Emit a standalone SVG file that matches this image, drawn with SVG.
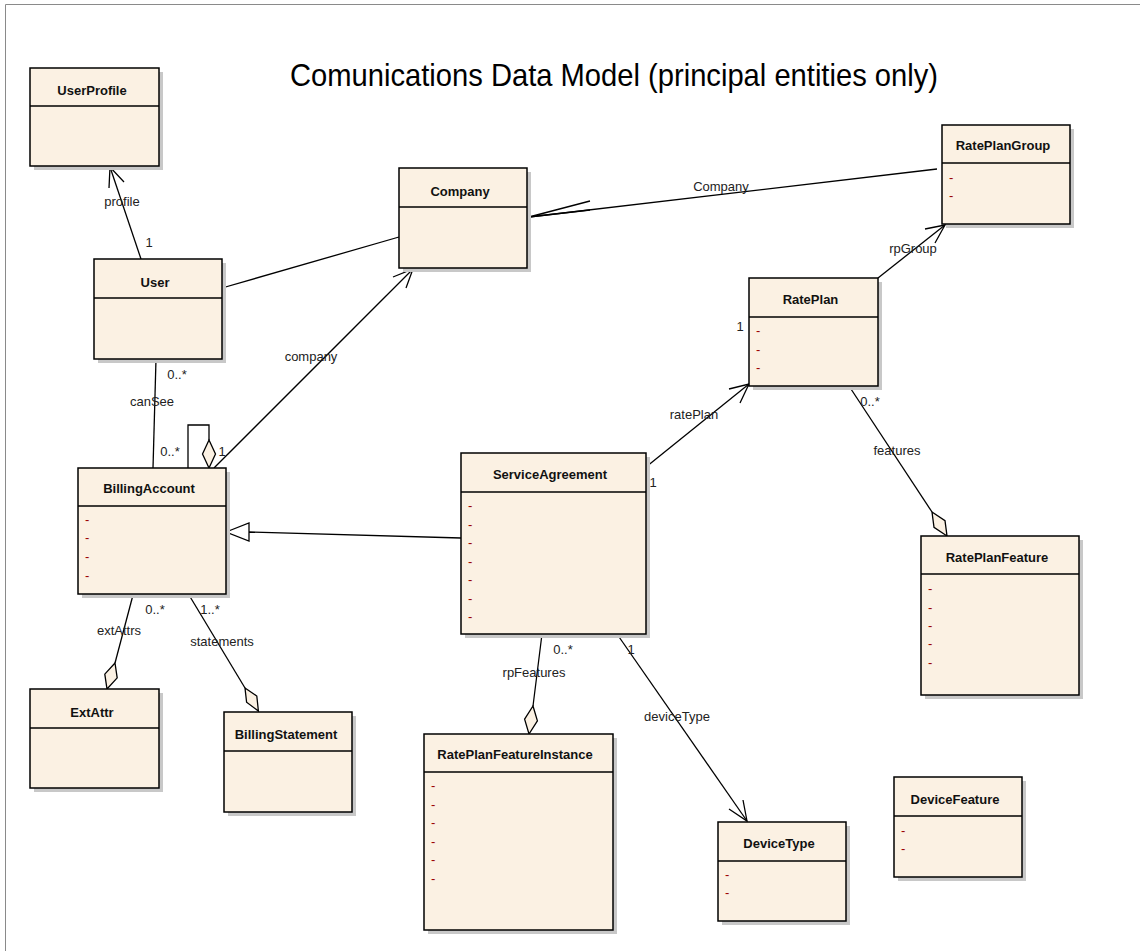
<svg xmlns="http://www.w3.org/2000/svg" width="1140" height="951" viewBox="0 0 1140 951">
<style>
.bg{fill:#ffffff}
.frame{stroke:#8a8a8a;stroke-width:1;fill:none}
.shadow{fill:#c8c8c8}
.box{fill:#FBF1E3;stroke:#000;stroke-width:1.5}
.sep{stroke:#000;stroke-width:1.5}
.title{font-family:"Liberation Sans",Arial,sans-serif;font-weight:bold;font-size:13px;text-anchor:middle;fill:#111}
.attr{font-family:"Liberation Sans",Arial,sans-serif;font-size:13px;fill:#990000}
.lbl{font-family:"Liberation Sans",Arial,sans-serif;font-size:13px;text-anchor:middle;fill:#222}
.head{font-family:"Liberation Sans",Arial,sans-serif;font-size:32px;fill:#000}
#connectors line,#connectors polyline{stroke:#000;stroke-width:1.3;fill:none}
#connectors .dia{fill:#FBF1E3;stroke:#000;stroke-width:1.3}
#connectors .gen{fill:#ffffff;stroke:#000;stroke-width:1.3}
</style>
<rect class="bg" x="0" y="0" width="1140" height="951"/>
<polyline class="frame" points="5.5,951 5.5,4.5 1140,4.5"/>
<text class="head" x="290" y="86" textLength="648" lengthAdjust="spacingAndGlyphs">Comunications Data Model (principal entities only)</text>

<g id="connectors">
  <!-- User -> UserProfile -->
  <line x1="141" y1="259" x2="110" y2="167"/>
  <polyline points="109,188 110,167 124,182"/>
  <!-- User - Company -->
  <line x1="222" y1="288" x2="399" y2="237"/>
  <!-- BillingAccount -> Company -->
  <line x1="214" y1="468" x2="413" y2="269"/>
  <polyline points="393,277 413,269 406,288"/>
  <!-- User - BillingAccount -->
  <line x1="156" y1="359" x2="153" y2="468"/>
  <!-- self loop -->
  <polyline points="188,468 188,425 209,425 209,440"/>
  <polygon class="dia" points="209,440 215.5,454 209,468 202.5,454"/>
  <!-- ServiceAgreement -> BillingAccount generalization -->
  <line x1="461" y1="538" x2="249" y2="532"/>
  <polygon class="gen" points="226,532 249,523 249,541"/>
  <!-- ServiceAgreement -> RatePlan -->
  <line x1="646" y1="467" x2="749" y2="384"/>
  <polyline points="729,389 749,384 740,403"/>
  <!-- RatePlan -> RatePlanGroup -->
  <line x1="878" y1="278" x2="945" y2="225"/>
  <polyline points="925,229 945,225 935,243"/>
  <!-- RatePlanGroup -> Company -->
  <line x1="937" y1="169" x2="529" y2="217"/>
  <polyline points="590,201 529,217 590,210"/>
  <!-- RatePlan - RatePlanFeature -->
  <line x1="849" y1="386" x2="932" y2="512"/>
  <polygon class="dia" points="932,512 945,520.6 947,536 934,527.4"/>
  <!-- BillingAccount - ExtAttr -->
  <line x1="133" y1="595" x2="115" y2="663"/>
  <polygon class="dia" points="115,663 117.2,677.9 107,689 104.8,674.1"/>
  <!-- BillingAccount - BillingStatement -->
  <line x1="189" y1="595" x2="245" y2="688"/>
  <polygon class="dia" points="245,688 256.8,696 258.4,711 246.6,702.2"/>
  <!-- ServiceAgreement - RatePlanFeatureInstance -->
  <line x1="542" y1="634" x2="533" y2="706"/>
  <polygon class="dia" points="533,706 537.4,720.9 529,734 524.6,719.1"/>
  <!-- ServiceAgreement -> DeviceType -->
  <line x1="617" y1="634" x2="747" y2="821"/>
  <polyline points="729,809 747,821 743,800"/>
</g>

<g id="connector-labels">
  <text class="lbl" x="122" y="206">profile</text>
  <text class="lbl" x="149" y="247">1</text>
  <text class="lbl" x="311" y="361">company</text>
  <text class="lbl" x="152" y="406">canSee</text>
  <text class="lbl" x="177" y="379">0..*</text>
  <text class="lbl" x="170" y="456">0..*</text>
  <text class="lbl" x="222" y="456">1</text>
  <text class="lbl" x="721" y="191">Company</text>
  <text class="lbl" x="913" y="253">rpGroup</text>
  <text class="lbl" x="740" y="331">1</text>
  <text class="lbl" x="870" y="406">0..*</text>
  <text class="lbl" x="897" y="455">features</text>
  <text class="lbl" x="694" y="419">ratePlan</text>
  <text class="lbl" x="653" y="487">1</text>
  <text class="lbl" x="155" y="614">0..*</text>
  <text class="lbl" x="210" y="614">1..*</text>
  <text class="lbl" x="119" y="635">extAttrs</text>
  <text class="lbl" x="222" y="646">statements</text>
  <text class="lbl" x="563" y="654">0..*</text>
  <text class="lbl" x="631" y="654">1</text>
  <text class="lbl" x="534" y="677">rpFeatures</text>
  <text class="lbl" x="677" y="721">deviceType</text>
</g>

<g id="UserProfile">
  <rect class="shadow" x="34" y="72" width="129" height="98"/>
  <rect class="box" x="30" y="68" width="129" height="98"/>
  <line class="sep" x1="30" y1="106" x2="159" y2="106"/>
  <text class="title" x="92" y="94.7">UserProfile</text>
</g>
<g id="User">
  <rect class="shadow" x="98" y="263" width="128" height="100"/>
  <rect class="box" x="94" y="259" width="128" height="100"/>
  <line class="sep" x1="94" y1="298" x2="222" y2="298"/>
  <text class="title" x="155" y="286.7">User</text>
</g>
<g id="Company">
  <rect class="shadow" x="403" y="172" width="128" height="100"/>
  <rect class="box" x="399" y="168" width="128" height="100"/>
  <line class="sep" x1="399" y1="207" x2="527" y2="207"/>
  <text class="title" x="460" y="195.7">Company</text>
</g>
<g id="RatePlanGroup">
  <rect class="shadow" x="946" y="129" width="128" height="99"/>
  <rect class="box" x="942" y="125" width="128" height="99"/>
  <line class="sep" x1="942" y1="163" x2="1070" y2="163"/>
  <text class="title" x="1003" y="149.7">RatePlanGroup</text>
  <text class="attr" x="949" y="181.5">-</text>
  <text class="attr" x="949" y="199.5">-</text>
</g>
<g id="RatePlan">
  <rect class="shadow" x="753" y="282" width="129" height="108"/>
  <rect class="box" x="749" y="278" width="129" height="108"/>
  <line class="sep" x1="749" y1="317" x2="878" y2="317"/>
  <text class="title" x="810.5" y="303.7">RatePlan</text>
  <text class="attr" x="756" y="334.5">-</text>
  <text class="attr" x="756" y="353.5">-</text>
  <text class="attr" x="756" y="371.5">-</text>
</g>
<g id="BillingAccount">
  <rect class="shadow" x="82" y="472" width="148" height="126"/>
  <rect class="box" x="78" y="468" width="148" height="126"/>
  <line class="sep" x1="78" y1="506" x2="226" y2="506"/>
  <text class="title" x="149" y="492.7">BillingAccount</text>
  <text class="attr" x="85" y="523.5">-</text>
  <text class="attr" x="85" y="541.5">-</text>
  <text class="attr" x="85" y="560.5">-</text>
  <text class="attr" x="85" y="579.5">-</text>
</g>
<g id="ServiceAgreement">
  <rect class="shadow" x="465" y="457" width="185" height="181"/>
  <rect class="box" x="461" y="453" width="185" height="181"/>
  <line class="sep" x1="461" y1="492" x2="646" y2="492"/>
  <text class="title" x="550" y="478.7">ServiceAgreement</text>
  <text class="attr" x="468" y="509.5">-</text>
  <text class="attr" x="468" y="528.5">-</text>
  <text class="attr" x="468" y="546.5">-</text>
  <text class="attr" x="468" y="565.5">-</text>
  <text class="attr" x="468" y="583.5">-</text>
  <text class="attr" x="468" y="602.5">-</text>
  <text class="attr" x="468" y="620.5">-</text>
</g>
<g id="RatePlanFeature">
  <rect class="shadow" x="925" y="540" width="158" height="159"/>
  <rect class="box" x="921" y="536" width="158" height="159"/>
  <line class="sep" x1="921" y1="574" x2="1079" y2="574"/>
  <text class="title" x="997" y="561.7">RatePlanFeature</text>
  <text class="attr" x="928" y="592.5">-</text>
  <text class="attr" x="928" y="611.5">-</text>
  <text class="attr" x="928" y="629.5">-</text>
  <text class="attr" x="928" y="647.5">-</text>
  <text class="attr" x="928" y="666.5">-</text>
</g>
<g id="DeviceFeature">
  <rect class="shadow" x="898" y="781" width="128" height="100"/>
  <rect class="box" x="894" y="777" width="128" height="100"/>
  <line class="sep" x1="894" y1="816" x2="1022" y2="816"/>
  <text class="title" x="955" y="803.7">DeviceFeature</text>
  <text class="attr" x="901" y="834.5">-</text>
  <text class="attr" x="901" y="852.5">-</text>
</g>
<g id="ExtAttr">
  <rect class="shadow" x="34" y="693" width="129" height="99"/>
  <rect class="box" x="30" y="689" width="129" height="99"/>
  <line class="sep" x1="30" y1="728" x2="159" y2="728"/>
  <text class="title" x="92" y="716.7">ExtAttr</text>
</g>
<g id="BillingStatement">
  <rect class="shadow" x="228" y="716" width="128" height="100"/>
  <rect class="box" x="224" y="712" width="128" height="100"/>
  <line class="sep" x1="224" y1="751" x2="352" y2="751"/>
  <text class="title" x="286" y="738.7">BillingStatement</text>
</g>
<g id="RatePlanFeatureInstance">
  <rect class="shadow" x="428" y="738" width="189" height="196"/>
  <rect class="box" x="424" y="734" width="189" height="196"/>
  <line class="sep" x1="424" y1="772" x2="613" y2="772"/>
  <text class="title" x="515" y="758.7">RatePlanFeatureInstance</text>
  <text class="attr" x="431" y="789.5">-</text>
  <text class="attr" x="431" y="808.5">-</text>
  <text class="attr" x="431" y="826.5">-</text>
  <text class="attr" x="431" y="845.5">-</text>
  <text class="attr" x="431" y="863.5">-</text>
  <text class="attr" x="431" y="882.5">-</text>
</g>
<g id="DeviceType">
  <rect class="shadow" x="722" y="826" width="128" height="99"/>
  <rect class="box" x="718" y="822" width="128" height="99"/>
  <line class="sep" x1="718" y1="861" x2="846" y2="861"/>
  <text class="title" x="779" y="847.7">DeviceType</text>
  <text class="attr" x="725" y="878.5">-</text>
  <text class="attr" x="725" y="896.5">-</text>
</g>
</svg>
